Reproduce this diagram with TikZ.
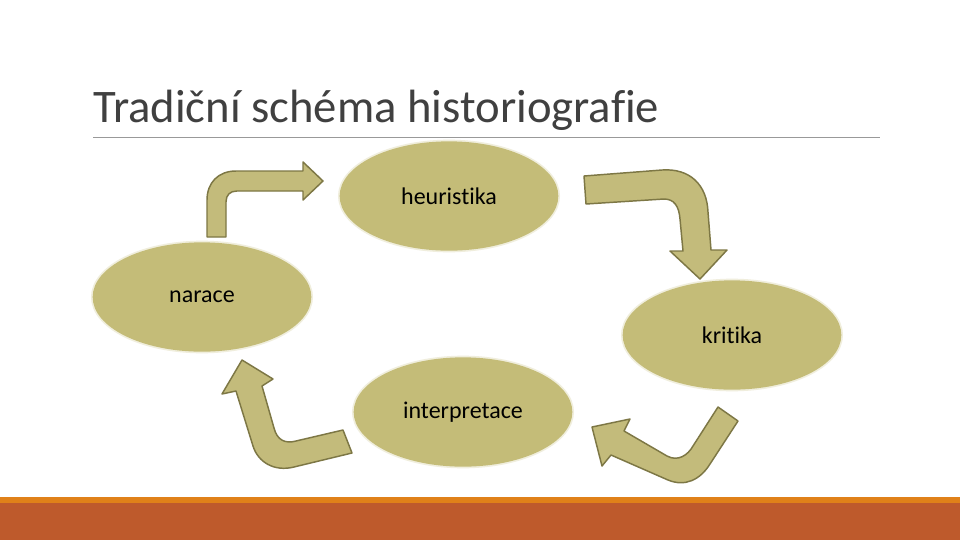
\documentclass[tikz,border=0pt]{standalone}
\usepackage{fontspec}
\setmainfont{Carlito}[Ligatures=NoCommon]
\usetikzlibrary{shapes.geometric}
\definecolor{stagefill}{HTML}{C4BC78}
\definecolor{arrowfill}{HTML}{C3BB7B}
\definecolor{arrowedge}{HTML}{7D7745}
\definecolor{barlight}{HTML}{E08119}
\definecolor{bardark}{HTML}{BE5A2C}
\definecolor{titlegray}{HTML}{404040}
\tikzset{
    stage/.style={ellipse, fill=stagefill, minimum width=164pt, minimum height=82pt, inner sep=0pt,
        preaction={draw=stagefill, draw opacity=0.25, line width=2.5pt}, font=\fontsize{18}{20}\selectfont},
    blockarrow/.style={fill=arrowfill, draw=arrowedge, line width=1.1pt, line join=round},
    titletext/.style={anchor=base west, inner sep=0pt, text=titlegray, font=\fontsize{35}{40}\selectfont}
}

\begin{document}
\begin{tikzpicture}[x=0.75pt, y=-0.75pt]
    \useasboundingbox (0,0) rectangle (960,540);
    \fill[white] (0,0) rectangle (960,540);

    % Title and rule
    \node[titletext] (title) at (93,122) {Tradiční schéma historiografie};
    \draw[gray!80, line width=0.75pt] (93,137) -- (880,137);

    % Block arrows
    \draw[blockarrow] (207,237) -- (207,200) .. controls (207,183) and (218,171) .. (236,171) -- (303,171)
        -- (303,162) -- (323,181) -- (303,200) -- (303,191) -- (237,191)
        .. controls (230,191) and (226,195) .. (226,202) -- (226,237) -- cycle;
    \draw[blockarrow] (584,176) -- (662,170) .. controls (690,168) and (707,185) .. (708,212) -- (711,250)
        -- (727,250) -- (700,279) -- (670,251) -- (683,251) -- (680,219)
        .. controls (679,206) and (674,199) .. (664,199) -- (586,204) -- cycle;
    \draw[blockarrow] (592,427) -- (630,419) -- (624,431) -- (667,456)
        .. controls (678,462) and (688,455) .. (693,446) -- (718,407) -- (738,421) -- (710,464)
        .. controls (700,480) and (685,487) .. (668,480) -- (611,455) -- (602,466) -- cycle;
    \draw[blockarrow] (242,360) -- (273,379) -- (262,386) -- (274,428)
        .. controls (277,440) and (285,444) .. (296,441) -- (343,430) -- (352,453) -- (294,467)
        .. controls (274,472) and (258,462) .. (253,446) -- (236,391) -- (222,394) -- cycle;

    % Stages
    \node[stage] (heur) at (449,196) {heuristika};
    \node[stage] (nar) at (202,297) {narace};
    \node[stage] (krit) at (732,335) {kritika};
    \node[stage] (interp) at (463,412) {interpretace};

    % Bottom bar
    \fill[barlight] (0,497) rectangle (960,503);
    \fill[bardark] (0,503) rectangle (960,540);
\end{tikzpicture}
\end{document}
